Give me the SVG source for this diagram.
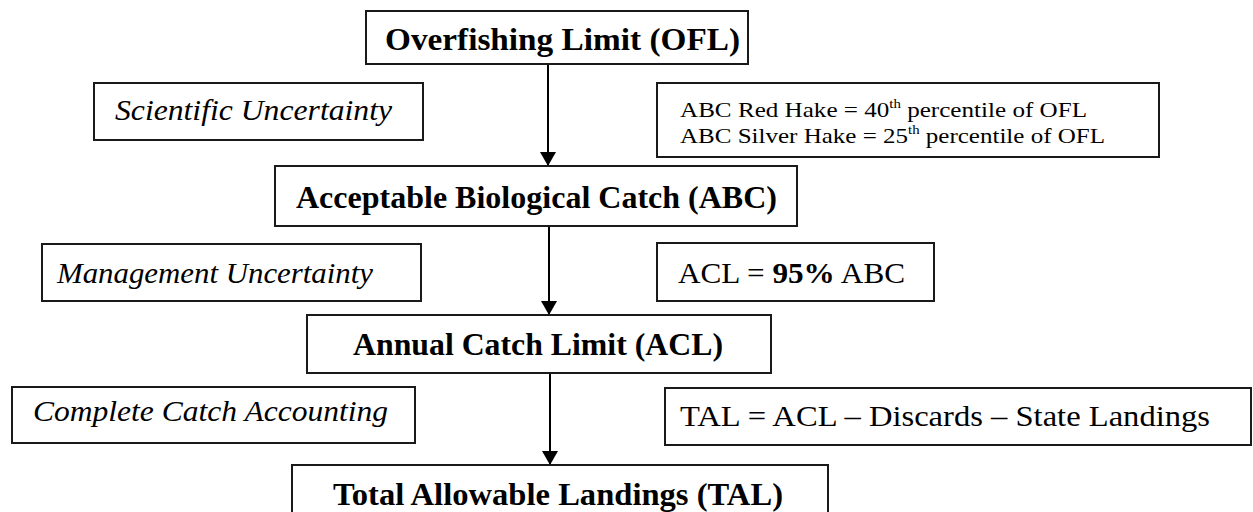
<svg xmlns="http://www.w3.org/2000/svg" width="1253" height="512" viewBox="0 0 1253 512">
<style>
.box{fill:#fff;stroke:#1a1a1a;stroke-width:2}
.t{font-family:'Liberation Serif',serif;fill:#000}
.b{font-weight:bold;font-size:31px}
.i{font-style:italic;font-size:29px}
.n{font-size:22px}
.m{font-size:30px}
.c{stroke:#000;stroke-width:2;fill:none}
</style>
<defs>
<marker id="ah" viewBox="0 0 14 16" refX="14" refY="8" markerWidth="14" markerHeight="16" markerUnits="userSpaceOnUse" orient="auto">
<path d="M0,0 L14,8 L0,16 Z" fill="#000"/>
</marker>
</defs>
<g id="connectors">
<line class="c" x1="548" y1="64" x2="548" y2="166" marker-end="url(#ah)"/>
<line class="c" x1="549" y1="226" x2="549" y2="315" marker-end="url(#ah)"/>
<line class="c" x1="550" y1="373" x2="550" y2="465" marker-end="url(#ah)"/>
</g>
<g id="ofl">
<rect class="box" x="366" y="11" width="382" height="53"/>
<text class="t b" x="385" y="50" textLength="355" lengthAdjust="spacingAndGlyphs">Overfishing Limit (OFL)</text>
</g>
<g id="scientific">
<rect class="box" x="94" y="83" width="329" height="57"/>
<text class="t i" x="115" y="120" textLength="277" lengthAdjust="spacingAndGlyphs">Scientific Uncertainty</text>
</g>
<g id="abc-note">
<rect class="box" x="657" y="83" width="502" height="74"/>
<text class="t n" x="680" y="117" textLength="407" lengthAdjust="spacingAndGlyphs">ABC Red Hake = 40<tspan font-size="13" dy="-9">th</tspan><tspan dy="9"> percentile of OFL</tspan></text>
<text class="t n" x="680" y="143" textLength="425" lengthAdjust="spacingAndGlyphs">ABC Silver Hake = 25<tspan font-size="13" dy="-9">th</tspan><tspan dy="9"> percentile of OFL</tspan></text>
</g>
<g id="abc">
<rect class="box" x="275" y="166" width="522" height="60"/>
<text class="t b" x="296" y="208" textLength="481" lengthAdjust="spacingAndGlyphs">Acceptable Biological Catch (ABC)</text>
</g>
<g id="management">
<rect class="box" x="42" y="244" width="379" height="57"/>
<text class="t i" x="57" y="283" textLength="316" lengthAdjust="spacingAndGlyphs">Management Uncertainty</text>
</g>
<g id="acl-note">
<rect class="box" x="657" y="243" width="277" height="58"/>
<text class="t m" x="678" y="283" textLength="227" lengthAdjust="spacingAndGlyphs">ACL = <tspan font-weight="bold">95%</tspan> ABC</text>
</g>
<g id="acl">
<rect class="box" x="307" y="315" width="464" height="58"/>
<text class="t b" x="353" y="355" textLength="370" lengthAdjust="spacingAndGlyphs">Annual Catch Limit (ACL)</text>
</g>
<g id="complete">
<rect class="box" x="12" y="387" width="403" height="56"/>
<text class="t i" x="33" y="421" textLength="355" lengthAdjust="spacingAndGlyphs">Complete Catch Accounting</text>
</g>
<g id="tal-note">
<rect class="box" x="665" y="388" width="586" height="57"/>
<text class="t m" x="680" y="426" textLength="530" lengthAdjust="spacingAndGlyphs">TAL = ACL – Discards – State Landings</text>
</g>
<g id="tal">
<rect class="box" x="292" y="465" width="536" height="60"/>
<text class="t b" x="333" y="505" textLength="450" lengthAdjust="spacingAndGlyphs">Total Allowable Landings (TAL)</text>
</g>
</svg>
